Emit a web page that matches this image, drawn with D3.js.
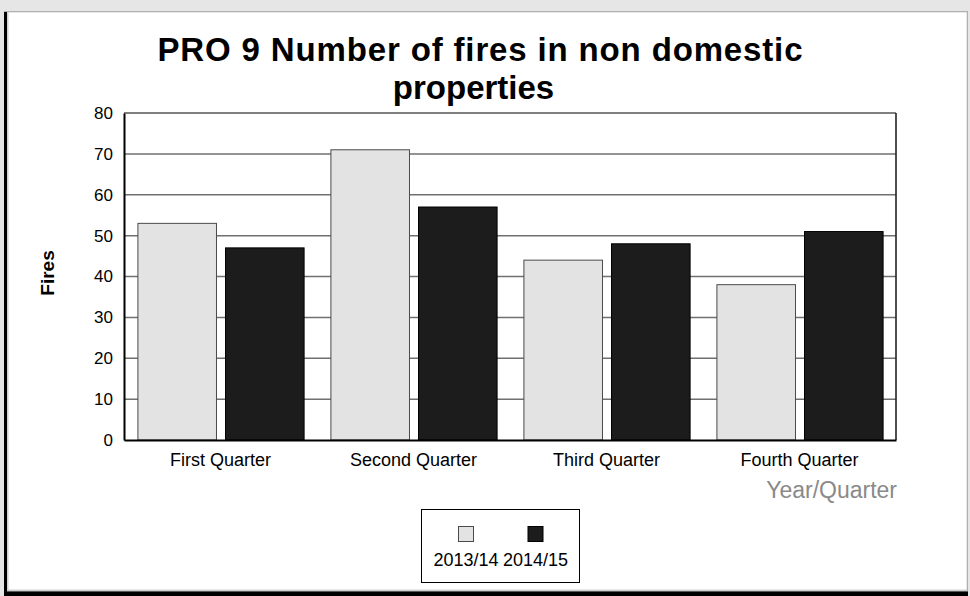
<!DOCTYPE html>
<html>
<head>
<meta charset="utf-8">
<script src="https://cdn.jsdelivr.net/npm/d3@7"></script>
<style>
  html, body { margin: 0; padding: 0; background: #e6e6e6; }
  svg { display: block; }
  text { font-family: "Liberation Sans", Arial, sans-serif; }
</style>
</head>
<body>
<svg id="chart" width="970" height="596"></svg>
<script>
// ---- data ----
const categories = ["First Quarter", "Second Quarter", "Third Quarter", "Fourth Quarter"];
const seriesNames = ["2013/14", "2014/15"];
const values2013 = [53, 71, 44, 38];
const values2014 = [47, 57, 48, 51];
const yTicks = [0, 10, 20, 30, 40, 50, 60, 70, 80];
const titleLines = ["PRO 9 Number of fires in non domestic", "properties"];
const yTitle = "Fires";
const xTitle = "Year/Quarter";

const seriesValues = [values2013, values2014];
const seriesColors = ["#e3e3e3", "#1c1c1c"];
const seriesStrokes = ["#4a4a4a", "#000000"];

const svg = d3.select("#chart");

// ---- panel background ----
svg.append("rect").attr("x", 0).attr("y", 0).attr("width", 970).attr("height", 596).attr("fill", "#e6e6e6");
svg.append("rect").attr("x", 4).attr("y", 11).attr("width", 964).attr("height", 585).attr("fill", "#b0b0b0");
svg.append("rect").attr("x", 4).attr("y", 12).attr("width", 3).attr("height", 584).attr("fill", "#000");
svg.append("rect").attr("x", 4).attr("y", 591.5).attr("width", 964).attr("height", 5).attr("fill", "#000");
svg.append("rect").attr("x", 7).attr("y", 12).attr("width", 960).attr("height", 579).attr("fill", "#d0d0d0");
svg.append("rect").attr("x", 8.5).attr("y", 12.5).attr("width", 958).attr("height", 577).attr("fill", "#ffffff");

// ---- plot geometry ----
const plot = { left: 124, right: 896, top: 113, bottom: 440 };

const x0 = d3.scaleBand().domain(categories).range([plot.left, plot.right]).paddingInner(0).paddingOuter(0);
const x1 = d3.scaleBand().domain(seriesNames).range([0, x0.bandwidth()]).paddingInner(0.103).paddingOuter(0.153);
const y = d3.scaleLinear().domain([0, 80]).range([plot.bottom, plot.top]);

// gridlines
svg.append("g").selectAll("line").data(yTicks.filter(d => d > 0 && d < 80)).join("line")
  .attr("x1", plot.left).attr("x2", plot.right)
  .attr("y1", d => y(d)).attr("y2", d => y(d))
  .attr("stroke", "#707070").attr("stroke-width", 1.5);

// frame top/right
svg.append("line").attr("x1", plot.left).attr("x2", plot.right).attr("y1", y(80)).attr("y2", y(80))
  .attr("stroke", "#000").attr("stroke-width", 1.2);
svg.append("line").attr("x1", plot.right).attr("x2", plot.right).attr("y1", y(80)).attr("y2", y(0))
  .attr("stroke", "#222").attr("stroke-width", 1.6);

// bars
const groups = svg.append("g").selectAll("g").data(categories).join("g")
  .attr("transform", d => `translate(${x0(d)},0)`);
groups.selectAll("rect").data((c, i) => seriesNames.map((s, j) => ({ s, j, v: seriesValues[j][i] }))).join("rect")
  .attr("x", d => x1(d.s) + 0.5)
  .attr("y", d => y(d.v))
  .attr("width", x1.bandwidth())
  .attr("height", d => y(0) - y(d.v))
  .attr("fill", d => seriesColors[d.j])
  .attr("stroke", d => seriesStrokes[d.j])
  .attr("stroke-width", 1);

// y axis
const yAxis = d3.axisLeft(y).tickValues(yTicks).tickSize(0).tickPadding(11);
const yg = svg.append("g").attr("transform", `translate(${plot.left},0)`).call(yAxis);
yg.select(".domain").attr("stroke", "#000").attr("stroke-width", 2);
yg.selectAll("text").attr("font-size", 17).attr("fill", "#000")
  .attr("font-family", "'Liberation Sans', Arial, sans-serif");

// x axis
const xAxis = d3.axisBottom(x0).tickSize(0).tickPadding(13);
const xg = svg.append("g").attr("transform", `translate(0,${plot.bottom})`).call(xAxis);
xg.select(".domain").attr("stroke", "#000").attr("stroke-width", 2);
xg.selectAll("text").attr("font-size", 18).attr("fill", "#000")
  .attr("font-family", "'Liberation Sans', Arial, sans-serif");

// y title
svg.append("text")
  .attr("transform", `translate(54,273) rotate(-90)`)
  .attr("text-anchor", "middle")
  .attr("font-size", 19).attr("font-weight", "bold").attr("fill", "#000")
  .text(yTitle);

// x title
svg.append("text")
  .attr("x", plot.right + 1).attr("y", 498)
  .attr("text-anchor", "end")
  .attr("font-size", 23).attr("fill", "#8a8a8a")
  .text(xTitle);

// title
const titleX = [480, 473.5];
const titleY = [61, 99];
svg.append("g").selectAll("text").data(titleLines).join("text")
  .attr("x", (d, i) => titleX[i]).attr("y", (d, i) => titleY[i])
  .attr("text-anchor", "middle")
  .attr("font-size", 33).attr("font-weight", "bold").attr("fill", "#000")
  .each(function (d, i) { if (i === 0) d3.select(this).attr("textLength", 645).attr("lengthAdjust", "spacing"); })
  .text(d => d);

// legend
const legend = { x: 421.5, y: 509.5, w: 158, h: 73 };
svg.append("rect").attr("x", legend.x).attr("y", legend.y).attr("width", legend.w).attr("height", legend.h)
  .attr("fill", "#fff").attr("stroke", "#000").attr("stroke-width", 1);
const lx = d3.scalePoint().domain(seriesNames).range([466, 535.5]);
const li = svg.append("g").selectAll("g").data(seriesNames).join("g");
li.append("rect")
  .attr("x", d => lx(d) - 7.5).attr("y", 526.5).attr("width", 15).attr("height", 15)
  .attr("fill", (d, i) => seriesColors[i]).attr("stroke", (d, i) => seriesStrokes[i]).attr("stroke-width", 1);
li.append("text")
  .attr("x", d => lx(d)).attr("y", 566)
  .attr("text-anchor", "middle").attr("font-size", 18).attr("fill", "#000")
  .text(d => d);
</script>
</body>
</html>
